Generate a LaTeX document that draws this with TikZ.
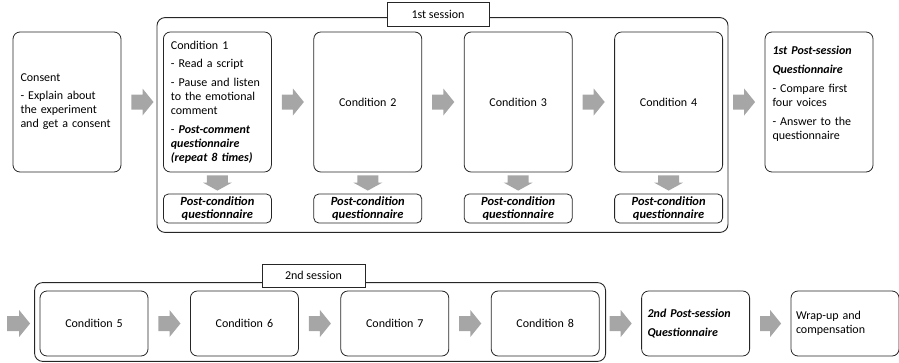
\documentclass[tikz,border=0pt]{standalone}
\usepackage{fontspec}
\setmainfont{Carlito}
\usepackage{xcolor}
\usepackage{tikz}
\usetikzlibrary{calc}

\definecolor{arrowgray}{HTML}{A6A6A6}
\definecolor{linegray}{HTML}{262626}

\tikzset{
  stage/.style={draw=linegray, line width=0.8pt, rounded corners=7pt,
    minimum width=108pt, minimum height=140pt, inner xsep=7.5pt,
    text width=93pt, align=left},
  cond/.style={stage, align=center},
  postq/.style={draw=linegray, line width=0.8pt, rounded corners=5pt,
    minimum width=108pt, minimum height=29pt, inner sep=0pt, text width=104pt,
    align=center, font=\bfseries\itshape\fontsize{12.5pt}{13pt}\selectfont},
  lowbox/.style={draw=linegray, line width=0.8pt, rounded corners=7pt,
    minimum width=108pt, minimum height=65pt, inner xsep=6pt,
    text width=96pt, align=center},
  frame/.style={draw=linegray, line width=0.9pt, rounded corners=8pt},
  sessiontitle/.style={draw=linegray, line width=0.9pt, fill=white,
    minimum width=102pt, minimum height=24pt, inner sep=0pt},
  % block arrows, left to right and top to bottom
  flow/.style={fill=arrowgray, to path={
    let \p1=(\tikztostart.east), \p2=(\tikztotarget.west),
        \n1={\x1+10pt}, \n2={\x2-9.5pt}, \n3={\x2-20.5pt} in
    (\n1,\y1+7.5pt) -- (\n3,\y1+7.5pt) -- (\n3,\y1+13.5pt) -- (\n2,\y1)
    -- (\n3,\y1-13.5pt) -- (\n3,\y1-7.5pt) -- (\n1,\y1-7.5pt) -- cycle}},
  flowin/.style={fill=arrowgray, to path={
    let \p1=(\tikztostart), \p2=(\tikztotarget.west),
        \n2={\x2-9.5pt}, \n3={\x2-20.5pt} in
    (\x1,\y1+7.5pt) -- (\n3,\y1+7.5pt) -- (\n3,\y1+13.5pt) -- (\n2,\y1)
    -- (\n3,\y1-13.5pt) -- (\n3,\y1-7.5pt) -- (\x1,\y1-7.5pt) -- cycle}},
  downflow/.style={fill=arrowgray, to path={
    let \p1=(\tikztostart.south), \p2=(\tikztotarget.north),
        \n1={\y1-3pt}, \n2={\y2+3pt}, \n3={\y2+11pt} in
    (\x1-10.5pt,\n1) -- (\x1-10.5pt,\n3) -- (\x1-14.5pt,\n3) -- (\x1,\n2)
    -- (\x1+14.5pt,\n3) -- (\x1+10.5pt,\n3) -- (\x1+10.5pt,\n1) -- cycle}}
}

\begin{document}
\begin{tikzpicture}[x=1pt, y=-1pt,
    every node/.style={font=\fontsize{12pt}{14pt}\selectfont}]
  \useasboundingbox (0,0) rectangle (899,362);

  % first session
  \node[stage] (consent) at (67,102) {Consent\\[4pt]- Explain about\\the experiment\\and get a consent};
  \node[stage] (c1) at (217.4,102) {Condition 1\\[4pt]- Read a script\\[5pt]- Pause and listen\\to the emotional\\comment\\[5pt]- \textbf{\textit{Post-comment}}\\\textbf{\textit{questionnaire}}\\\textbf{\textit{(repeat 8 times)}}};
  \foreach \i in {2,3,4}
  \node[cond] (c\i) at ({67+150.4*\i},102) {Condition \i};
  \node[stage] (ps1) at (819,102) {\parbox[c][112pt][t]{93pt}{\raggedright
      \textbf{\textit{1st Post-session}}\\[5pt]\textbf{\textit{Questionnaire}}\\[5pt]- Compare first\\four voices\\[5pt]- Answer to the\\questionnaire}};
  \foreach \i in {1,...,4}
  \node[postq] (pc\i) at ({67+150.4*\i},208.5) {Post-condition\\questionnaire};

  \draw[frame] ([shift={(-6,-14)}]c1.north west) rectangle ([shift={(5,9)}]pc4.south east);
  \node[sessiontitle] (s1) at (438,14) {1st session};

  \foreach \a/\b in {consent/c1,c1/c2,c2/c3,c3/c4,c4/ps1}
  \path[flow] (\a) to (\b);
  \foreach \i in {1,...,4}
  \path[downflow] (c\i) to (pc\i);

  % second session
  \foreach \i in {5,...,8}
  \node[lowbox] (c\i) at ({94+150.4*(\i-5)},323.5) {Condition \i};
  \node[lowbox, align=left] (ps2) at (695.6,323.5) {\textbf{\textit{2nd Post-session}}\\[5pt]\textbf{\textit{Questionnaire}}};
  \node[lowbox, align=left, inner xsep=5pt, text width=98pt] (wrap) at (845,323.5) {Wrap-up and\\compensation};

  \draw[frame] ([shift={(-5,-8)}]c5.north west) rectangle ([shift={(6,5)}]c8.south east);
  \node[sessiontitle, minimum width=103pt, minimum height=23pt] (s2) at (313.5,275.5) {2nd session};

  \coordinate (into2) at (7,323.5);
  \path[flowin] (into2) to (c5);
  \foreach \a/\b in {c5/c6,c6/c7,c7/c8,c8/ps2,ps2/wrap}
  \path[flow] (\a) to (\b);
\end{tikzpicture}
\end{document}
